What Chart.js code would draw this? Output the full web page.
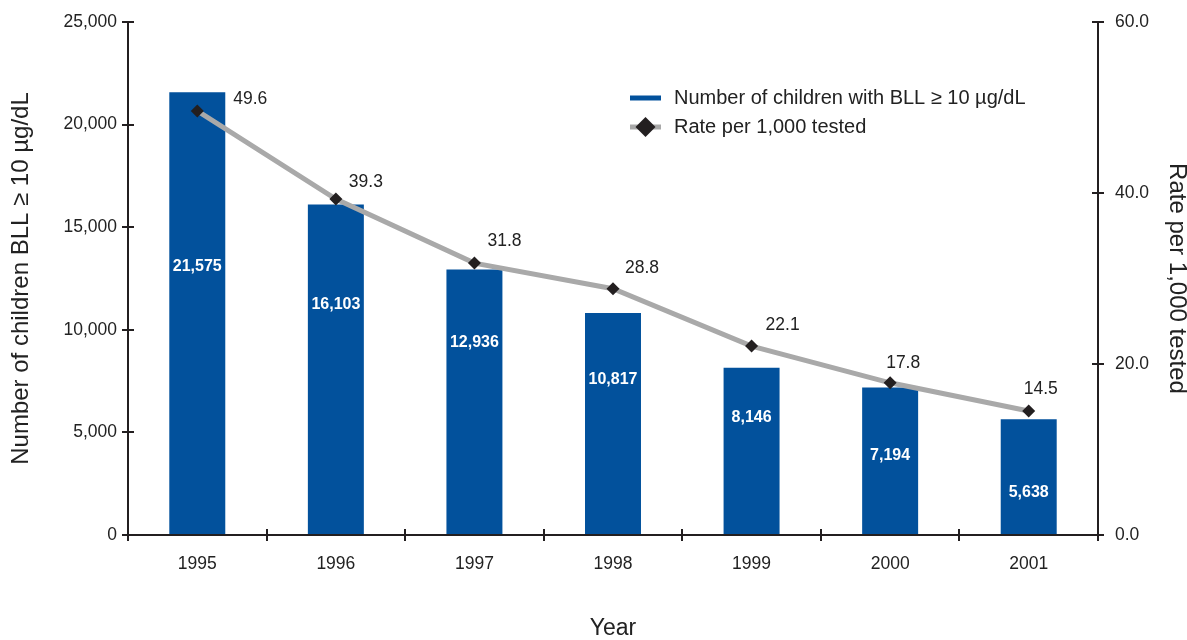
<!DOCTYPE html>
<html>
<head>
<meta charset="utf-8">
<script src="https://cdn.jsdelivr.net/npm/chart.js@4/dist/chart.umd.min.js"></script>
<style>
  html, body { margin: 0; padding: 0; background: #ffffff; }
  #wrap { width: 1187px; height: 640px; position: relative; }
</style>
</head>
<body>
<div id="wrap"><canvas id="chart" width="1187" height="640"></canvas></div>
<script>
// Childhood blood lead surveillance, 1995-2001
const years = ['1995', '1996', '1997', '1998', '1999', '2000', '2001'];
const childrenElevated = [21575, 16103, 12936, 10817, 8146, 7194, 5638];
const ratePer1000 = [49.6, 39.3, 31.8, 28.8, 22.1, 17.8, 14.5];
const countTicks = [0, 5000, 10000, 15000, 20000, 25000];
const rateTicks = [0, 20, 40, 60];

const BAR_BLUE = '#02519c';
const LINE_GREY = '#a9a9a9';
const INK = '#231f20';
const TEXT = '#222222';
const FONT = '"Liberation Sans", Arial, Helvetica, sans-serif';

// Axis lines with tick marks that straddle the axis
const axisTicks = {
  id: 'axisTicks',
  afterDraw(chart) {
    const ctx = chart.ctx;
    const { left, right, top, bottom } = chart.chartArea;
    const half = 6;
    ctx.save();
    ctx.strokeStyle = INK;
    ctx.lineWidth = 2;
    ctx.beginPath();
    ctx.moveTo(left, top); ctx.lineTo(left, bottom);
    ctx.moveTo(right, top); ctx.lineTo(right, bottom);
    ctx.moveTo(left - 1, bottom); ctx.lineTo(right + 1, bottom);
    const yL = chart.scales.y;
    countTicks.forEach(v => {
      const y = Math.round(yL.getPixelForValue(v));
      ctx.moveTo(left - half, y); ctx.lineTo(left + half, y);
    });
    const yR = chart.scales.y2;
    rateTicks.forEach(v => {
      const y = Math.round(yR.getPixelForValue(v));
      ctx.moveTo(right - half, y); ctx.lineTo(right + half, y);
    });
    const n = years.length;
    for (let i = 0; i <= n; i++) {
      const x = Math.round(left + (right - left) * i / n);
      ctx.moveTo(x, bottom - half); ctx.lineTo(x, bottom + half);
    }
    ctx.stroke();
    ctx.restore();
  }
};

// Value labels: bold white counts inside bars, rates beside the markers
const valueLabels = {
  id: 'valueLabels',
  afterDatasetsDraw(chart, args, opts) {
    const ctx = chart.ctx;
    const area = chart.chartArea;
    ctx.save();
    const barMeta = chart.getDatasetMeta(1);
    ctx.font = 'bold 16px ' + FONT;
    ctx.fillStyle = '#ffffff';
    ctx.textAlign = 'center';
    ctx.textBaseline = 'middle';
    barMeta.data.forEach((bar, i) => {
      const y = area.top + area.height * (opts.barLabelStart + opts.barLabelStep * i);
      ctx.fillText(childrenElevated[i].toLocaleString('en-US'), bar.x, y);
    });
    const lineMeta = chart.getDatasetMeta(0);
    ctx.font = '17.5px ' + FONT;
    ctx.fillStyle = TEXT;
    ctx.textAlign = 'left';
    lineMeta.data.forEach((pt, i) => {
      const off = opts.rateOffsets[i];
      ctx.fillText(ratePer1000[i].toFixed(1), pt.x + off[0], pt.y + off[1]);
    });
    ctx.restore();
  }
};

// Legend in the upper right of the plot
const sideLegend = {
  id: 'sideLegend',
  afterDraw(chart, args, opts) {
    const ctx = chart.ctx;
    const x0 = opts.x, y0 = opts.y, gap = opts.gap, len = 31;
    ctx.save();
    ctx.lineCap = 'butt';
    ctx.strokeStyle = BAR_BLUE;
    ctx.lineWidth = 5;
    ctx.beginPath(); ctx.moveTo(x0, y0); ctx.lineTo(x0 + len, y0); ctx.stroke();
    ctx.strokeStyle = LINE_GREY;
    ctx.beginPath(); ctx.moveTo(x0, y0 + gap); ctx.lineTo(x0 + len, y0 + gap); ctx.stroke();
    const cx = x0 + len / 2, cy = y0 + gap, r = 10;
    ctx.fillStyle = INK;
    ctx.beginPath();
    ctx.moveTo(cx, cy - r); ctx.lineTo(cx + r, cy); ctx.lineTo(cx, cy + r); ctx.lineTo(cx - r, cy);
    ctx.closePath(); ctx.fill();
    ctx.font = '20px ' + FONT;
    ctx.fillStyle = TEXT;
    ctx.textAlign = 'left';
    ctx.textBaseline = 'middle';
    ctx.fillText('Number of children with BLL \u2265 10 \u00b5g/dL', x0 + 44, y0);
    ctx.fillText('Rate per 1,000 tested', x0 + 44, y0 + gap);
    ctx.restore();
  }
};

new Chart(document.getElementById('chart'), {
  data: {
    labels: years,
    datasets: [
      {
        type: 'line',
        label: 'Rate per 1,000 tested',
        data: ratePer1000,
        yAxisID: 'y2',
        borderColor: LINE_GREY,
        borderWidth: 5,
        tension: 0,
        pointStyle: 'rectRot',
        pointRadius: 6.5,
        pointBackgroundColor: INK,
        pointBorderWidth: 0,
        fill: false
      },
      {
        type: 'bar',
        label: 'Number of children with BLL \u2265 10 \u00b5g/dL',
        data: childrenElevated,
        yAxisID: 'y',
        backgroundColor: BAR_BLUE,
        borderWidth: 0,
        categoryPercentage: 0.404,
        barPercentage: 1.0
      }
    ]
  },
  options: {
    responsive: false,
    animation: false,
    layout: { padding: { top: 22, left: 0, right: 0, bottom: 0 } },
    plugins: {
      legend: { display: false },
      tooltip: { enabled: false },
      valueLabels: {
        barLabelStart: 0.4776,
        barLabelStep: 0.0734,
        rateOffsets: [[36, -12], [13, -17], [13, -22], [12, -21], [14, -21], [-4, -20], [-5, -22]]
      },
      sideLegend: { x: 630, y: 98, gap: 29 }
    },
    scales: {
      x: {
        offset: true,
        grid: { display: false },
        border: { display: false },
        ticks: { color: TEXT, font: { family: FONT, size: 17.5 }, padding: 11, maxRotation: 0 },
        title: { display: true, text: 'Year', color: TEXT, font: { family: FONT, size: 23, lineHeight: 1.0 }, padding: { top: 0, bottom: 0 } },
        afterFit(s) { s.height = 105; }
      },
      y: {
        position: 'left',
        min: 0, max: 25000,
        grid: { display: false },
        border: { display: false },
        afterBuildTicks(s) { s.ticks = countTicks.map(v => ({ value: v })); },
        ticks: {
          color: TEXT, font: { family: FONT, size: 17.5 }, padding: 3,
          callback: v => v.toLocaleString('en-US')
        },
        title: { display: true, text: 'Number of children BLL \u2265 10 \u00b5g/dL', color: TEXT, font: { family: FONT, size: 24, lineHeight: 1.0 }, padding: { top: 9, bottom: 0 } },
        afterFit(s) { s.width = 128; }
      },
      y2: {
        position: 'right',
        min: 0, max: 60,
        grid: { display: false },
        border: { display: false },
        afterBuildTicks(s) { s.ticks = rateTicks.map(v => ({ value: v })); },
        ticks: {
          color: TEXT, font: { family: FONT, size: 17.5 }, padding: 9,
          callback: v => Number(v).toFixed(1)
        },
        title: { display: true, text: 'Rate per 1,000 tested', color: TEXT, font: { family: FONT, size: 24, lineHeight: 0.85 }, padding: { top: 0, bottom: 0 } },
        afterFit(s) { s.width = 89; }
      }
    }
  },
  plugins: [axisTicks, valueLabels, sideLegend]
});
</script>
</body>
</html>
